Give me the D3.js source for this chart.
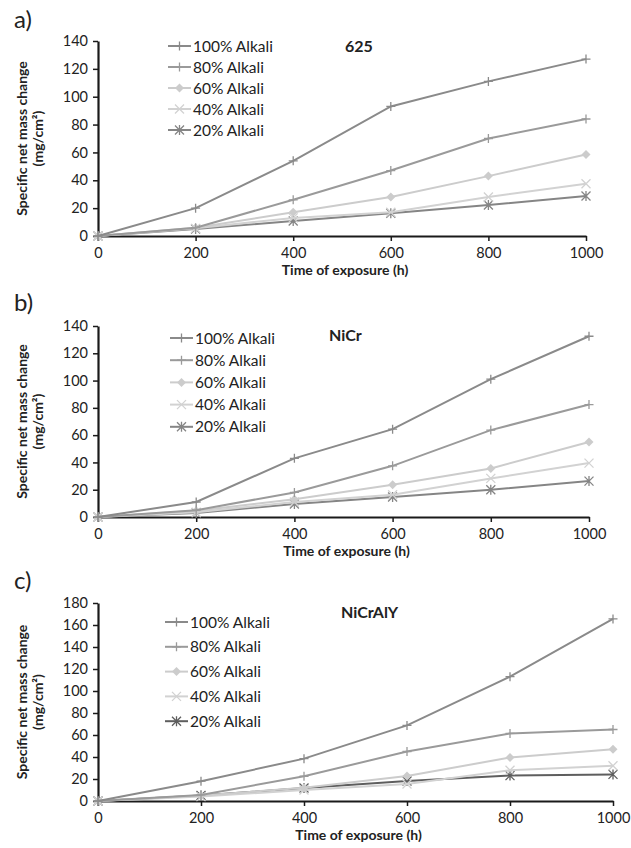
<!DOCTYPE html>
<html>
<head>
<meta charset="utf-8">
<title>Mass change vs exposure</title>
<script src="https://cdn.jsdelivr.net/npm/d3@7/dist/d3.min.js"></script>
<style>
  body { margin: 0; background: #fff; }
  svg text { font-family: Lato, "Open Sans", sans-serif; fill: #222; }
  .axis path, .axis line { stroke: #1a1a1a; }
  .axis text { font-size: 14.5px; }
</style>
</head>
<body>
<script>
// data
var hours = [0, 200, 400, 600, 800, 1000];
var seriesNames = ["100% Alkali", "80% Alkali", "60% Alkali", "40% Alkali", "20% Alkali"];

var a100 = [0, 20, 54, 93, 111, 127];
var a80  = [0, 6, 26, 47, 70, 84];
var a60  = [0, 6, 17, 28, 43, 58.5];
var a40  = [0, 5.5, 13, 17, 28, 37.5];
var a20  = [0, 5, 10.8, 16.3, 22.3, 28.7];

var b100 = [0, 11, 43, 64.4, 101, 132.5];
var b80  = [0, 5, 18, 37.5, 63.7, 82.4];
var b60  = [0, 4.5, 13, 23.6, 35.6, 55];
var b40  = [0, 3.5, 11, 16.3, 28.3, 39.5];
var b20  = [0, 3, 9.5, 14.6, 20, 26.3];

var c100 = [0, 18, 38.5, 68.7, 113, 165.5];
var c80  = [0, 5.5, 22.5, 45, 61.4, 65];
var c60  = [0, 5, 12, 22.8, 39.5, 47];
var c40  = [0, 4, 10, 15.5, 28, 32];
var c20  = [0, 5, 11.8, 18.2, 23.1, 24.2];

var yTicksAB = [0, 20, 40, 60, 80, 100, 120, 140];
var yTicksC = [0, 20, 40, 60, 80, 100, 120, 140, 160, 180];

var colorsAB = ["#8a8a8a", "#9a9a9a", "#cccccc", "#d2d2d2", "#858585"];
var colorsC  = ["#8a8a8a", "#9a9a9a", "#cccccc", "#d2d2d2", "#5e5e5e"];
var markers = ["plus", "plus", "diamond", "cross", "star"];

var svg = d3.select("body").append("svg")
    .attr("width", 631).attr("height", 848);

var panels = [
  { label: "a)", title: "625", series: [a100, a80, a60, a40, a20], colors: colorsAB,
    yMax: 140, yTicks: yTicksAB, top: 41, bottom: 236, right: 586,
    labelY: 28, titleX: 345, titleY: 52, legX: 168, legY: 46, legStep: 21 },
  { label: "b)", title: "NiCr", series: [b100, b80, b60, b40, b20], colors: colorsAB,
    yMax: 140, yTicks: yTicksAB, top: 326, bottom: 517, right: 589,
    labelY: 311, titleX: 329, titleY: 341, legX: 170, legY: 338, legStep: 22.2 },
  { label: "c)", title: "NiCrAlY", series: [c100, c80, c60, c40, c20], colors: colorsC,
    yMax: 180, yTicks: yTicksC, top: 603, bottom: 801, right: 613,
    labelY: 589, titleX: 341, titleY: 618, legX: 165, legY: 622, legStep: 24.8 }
];

panels.forEach(drawPanel);

function markerPath(type, cx, cy) {
  var s = 4.5;
  if (type == "plus") return "M" + (cx - s) + "," + cy + "H" + (cx + s) + "M" + cx + "," + (cy - s) + "V" + (cy + s);
  if (type == "cross") return "M" + (cx - s) + "," + (cy - s) + "L" + (cx + s) + "," + (cy + s) + "M" + (cx - s) + "," + (cy + s) + "L" + (cx + s) + "," + (cy - s);
  if (type == "star") return "M" + (cx - s) + "," + (cy - s) + "L" + (cx + s) + "," + (cy + s) + "M" + (cx - s) + "," + (cy + s) + "L" + (cx + s) + "," + (cy - s) +
                             "M" + cx + "," + (cy - s - 0.5) + "V" + (cy + s + 0.5);
  return null;
}

function drawMarker(g, type, cx, cy, color) {
  if (type == "diamond") {
    g.append("path")
      .attr("d", "M" + cx + "," + (cy - 4.5) + "L" + (cx + 4.5) + "," + cy + "L" + cx + "," + (cy + 4.5) + "L" + (cx - 4.5) + "," + cy + "Z")
      .attr("fill", color).attr("stroke", "none");
  } else {
    g.append("path").attr("d", markerPath(type, cx, cy))
      .attr("fill", "none").attr("stroke", color).attr("stroke-width", 1.3);
  }
}

function drawPanel(p) {
  var left = 98;
  var x = d3.scaleLinear().domain([0, 1000]).range([left, p.right]);
  var y = d3.scaleLinear().domain([0, p.yMax]).range([p.bottom, p.top]);

  var g = svg.append("g");

  g.append("g").attr("class", "axis")
    .attr("transform", "translate(0," + p.bottom + ")")
    .call(d3.axisBottom(x).tickValues(hours).tickFormat(d3.format("d")).tickSize(5).tickPadding(7).tickSizeOuter(0))
    .call(function(a) { a.select(".domain").attr("stroke-width", 2.2); a.selectAll("line").attr("stroke-width", 1.5); });

  g.append("g").attr("class", "axis")
    .attr("transform", "translate(" + left + ",0)")
    .call(d3.axisLeft(y).tickValues(p.yTicks).tickSize(5).tickPadding(5).tickSizeOuter(0))
    .call(function(a) { a.select(".domain").attr("stroke-width", 2.2); a.selectAll("line").attr("stroke-width", 1.5); });

  var line = d3.line()
    .x(function(d, i) { return x(hours[i]); })
    .y(function(d) { return y(d); });

  // draw in reverse so 100% sits on top
  for (var k = p.series.length - 1; k >= 0; k--) {
    var vals = p.series[k];
    g.append("path").datum(vals)
      .attr("d", line)
      .attr("fill", "none")
      .attr("stroke", p.colors[k])
      .attr("stroke-width", 2);
    vals.forEach(function(v, i) {
      drawMarker(g, markers[k], x(hours[i]), y(v), p.colors[k]);
    });
  }

  // legend
  seriesNames.forEach(function(name, k) {
    var ly = p.legY + k * p.legStep;
    g.append("line")
      .attr("x1", p.legX).attr("x2", p.legX + 23)
      .attr("y1", ly).attr("y2", ly)
      .attr("stroke", p.colors[k]).attr("stroke-width", 2);
    drawMarker(g, markers[k], p.legX + 11.5, ly, p.colors[k]);
    g.append("text")
      .attr("x", p.legX + 25).attr("y", ly + 5.5)
      .style("font-size", "15.5px")
      .text(name);
  });

  g.append("text")
    .attr("x", p.titleX).attr("y", p.titleY)
    .style("font-size", "16px").style("font-weight", "bold")
    .text(p.title);

  g.append("text")
    .attr("x", 14).attr("y", p.labelY)
    .style("font-size", "24px")
    .text(p.label);

  // axis titles
  var midY = (p.top + p.bottom) / 2;
  var yt = g.append("text")
    .attr("transform", "translate(27," + midY + ") rotate(-90)")
    .attr("text-anchor", "middle")
    .style("font-size", "14px").style("font-weight", "bold");
  yt.append("tspan").attr("x", 0).attr("dy", 0).text("Specific net mass change");
  yt.append("tspan").attr("x", 0).attr("dy", 16).text("(mg/cm\u00b2)");

  g.append("text")
    .attr("x", (left + p.right) / 2 + 3).attr("y", p.bottom + 39)
    .attr("text-anchor", "middle")
    .style("font-size", "14px").style("font-weight", "bold")
    .text("Time of exposure (h)");
}
</script>
</body>
</html>
